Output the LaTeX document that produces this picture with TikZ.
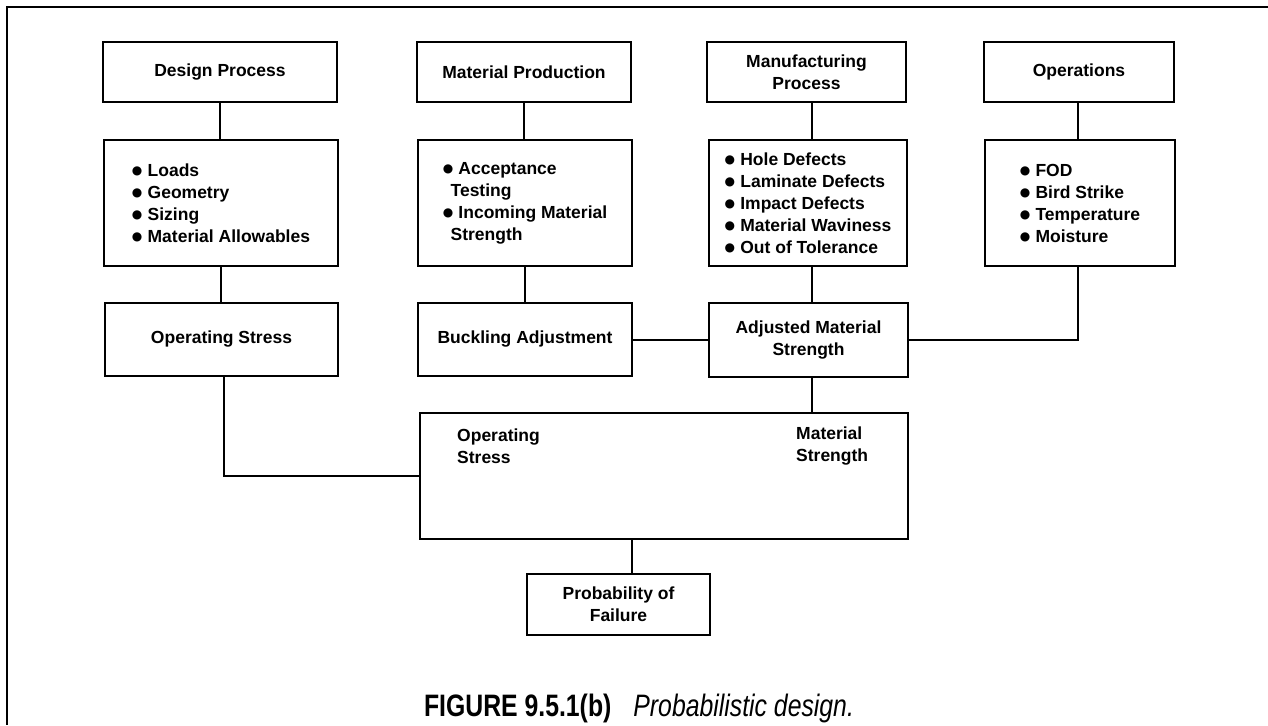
\documentclass[tikz,border=0pt]{standalone}
\usepackage{fontspec}
\setmainfont{Liberation Sans}
\newfontfamily\capfont[FakeStretch=0.8]{Liberation Sans}
\newfontfamily\dvs{DejaVu Sans}
\newcommand\bul{\smash{\raisebox{1.5pt}{\dvs\fontsize{12}{12}\selectfont\char"25CF}}\hspace{0.3em}}
\newcommand\ind{\hspace{0.45em}}
\begin{document}
\begin{tikzpicture}[x=1pt,y=-1pt,
  box/.style={draw, line width=2.7pt, inner sep=0pt, outer sep=0pt,
    font=\bfseries\fontsize{17.5}{22}\selectfont, align=center},
  list/.style={box, align=left},
  wire/.style={line width=2.2pt},
  txt/.style={font=\bfseries\fontsize{17.5}{22}\selectfont, align=left, inner sep=0pt},
  frame/.style={line width=2.2pt}]
\useasboundingbox (0,0) rectangle (1268,725);
\draw[frame] (1268,7) -- (7,7) -- (7,725);

% row 1
\node[box, minimum width=234pt, minimum height=60pt] (dp) at (220,72) {Design Process};
\node[box, minimum width=214pt, minimum height=60pt] (mp) at (524,72) {Material Production};
\node[box, minimum width=199pt, minimum height=60pt] (mfp) at (806.5,72) {Manufacturing\\Process};
\node[box, minimum width=190pt, minimum height=60pt] (ops) at (1079,72) {Operations};

% row 2
\node[list, minimum width=234pt, minimum height=126pt] (lo) at (221,203)
  {\bul Loads\\\bul Geometry\\\bul Sizing\\\bul Material Allowables};
\node[list, minimum width=214pt, minimum height=126pt] (ac) at (525,203)
  {\bul Acceptance\\\ind Testing\\\bul Incoming Material\\\ind Strength};
\node[list, minimum width=198pt, minimum height=126pt] (ho) at (808,203)
  {\bul Hole Defects\\\bul Laminate Defects\\\bul Impact Defects\\\bul Material Waviness\\\bul Out of Tolerance};
\node[list, minimum width=190pt, minimum height=126pt] (fo) at (1080,203)
  {\bul FOD\\\bul Bird Strike\\\bul Temperature\\\bul Moisture};

% row 3
\node[box, minimum width=233pt, minimum height=73pt] (os) at (221.5,339.5) {Operating Stress};
\node[box, minimum width=214pt, minimum height=73pt] (bu) at (525,339.5) {Buckling Adjustment};
\node[box, minimum width=199pt, minimum height=74pt] (am) at (808.5,340) {Adjusted Material\\Strength};

% big box
\node[box, minimum width=488pt, minimum height=126pt] (big) at (664,476) {};
\node[txt, anchor=west] (ostx) at (457,446) {Operating\\Stress};
\node[txt, anchor=west] (mstx) at (796,446) {Material\\Strength};

% probability
\node[box, minimum width=183pt, minimum height=61pt] (pf) at (618.5,604.5) {Probability of\\Failure};

% connector x positions
\coordinate (k1) at (224,0);
\coordinate (k3) at (812,0);
\coordinate (k4) at (1078,0);
\coordinate (k5) at (632,0);

\draw[wire] (dp.south) -- (dp.south |- lo.north);
\draw[wire] (lo.south) -- (lo.south |- os.north);
\draw[wire] (mp.south) -- (mp.south |- ac.north);
\draw[wire] (ac.south) -- (ac.south |- bu.north);
\draw[wire] (mfp.south -| k3) -- (ho.north -| k3);
\draw[wire] (ho.south -| k3) -- (am.north -| k3);
\draw[wire] (am.south -| k3) -- (big.north -| k3);
\draw[wire] (ops.south -| k4) -- (fo.north -| k4);
\draw[wire] (fo.south -| k4) |- (am.east);
\draw[wire] (am.west) -- (am.west -| bu.east);
\draw[wire] (os.south -| k1) |- (big.west);
\draw[wire] (big.south -| k5) -- (pf.north -| k5);

% caption
\node[anchor=base, inner sep=0pt, font=\capfont\fontsize{31}{36}\selectfont] (cap) at (639,716)
  {\textbf{FIGURE 9.5.1(b)}\hspace{22pt}\textit{Probabilistic design.}};
\end{tikzpicture}
\end{document}
